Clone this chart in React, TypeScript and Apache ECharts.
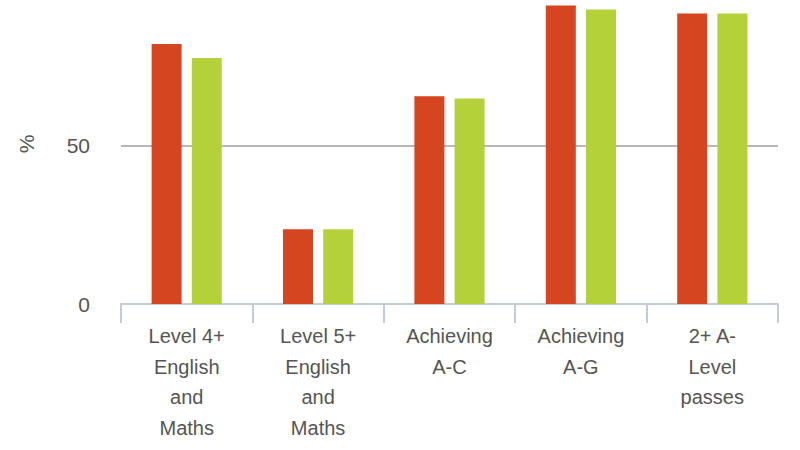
import React, { useEffect, useRef } from "react";
import * as echarts from "echarts";

const categories = [
  "Level 4+\nEnglish\nand\nMaths",
  "Level 5+\nEnglish\nand\nMaths",
  "Achieving\nA-C",
  "Achieving\nA-G",
  "2+ A-\nLevel\npasses",
];
const seriesRed = [82.1, 23.6, 65.6, 94.3, 91.7];
const seriesGreen = [77.7, 23.6, 64.9, 93.0, 91.7];
const yTickLabels = [0, 50];
const yMax = 96;
const yAxisName = "%";

export default function App() {
  const ref = useRef<HTMLDivElement>(null);
  useEffect(() => {
    if (!ref.current) return;
    const chart = echarts.init(ref.current, null, { renderer: "svg" });
    const font = "'Liberation Sans', Arial, sans-serif";
    chart.setOption({
      animation: false,
      grid: { left: 121, right: 22, top: 0, bottom: 146, containLabel: false },
      graphic: [
        {
          type: "text",
          x: 26,
          y: 144,
          rotation: Math.PI / 2,
          style: {
            text: yAxisName,
            fill: "#555555",
            fontSize: 21,
            fontFamily: font,
            align: "center",
            verticalAlign: "middle",
          },
        },
      ],
      xAxis: {
        type: "category",
        data: categories,
        axisLine: { lineStyle: { color: "#c3ccd6", width: 2 } },
        axisTick: { show: true, length: 19, lineStyle: { color: "#c3ccd6", width: 2 } },
        axisLabel: {
          color: "#555555",
          fontSize: 20,
          lineHeight: 30.5,
          fontFamily: font,
          margin: 17,
          interval: 0,
        },
      },
      yAxis: {
        type: "value",
        min: 0,
        max: yMax,
        interval: 50,
        axisLine: { show: false },
        axisTick: { show: false },
        axisLabel: {
          color: "#555555",
          fontSize: 21,
          fontFamily: font,
          margin: 31,
          showMaxLabel: false,
          formatter: (v: number) => (yTickLabels.includes(v) ? String(v) : ""),
        },
        splitLine: {
          showMaxLine: false,
          showMinLine: false,
          lineStyle: { color: "#b8b8b8", width: 2 },
        },
      },
      series: [
        {
          type: "bar",
          data: seriesRed,
          barWidth: 30,
          barGap: "34%",
          itemStyle: { color: "#d5451f" },
        },
        {
          type: "bar",
          data: seriesGreen,
          barWidth: 30,
          itemStyle: { color: "#b4d13a" },
        },
      ],
    });
    return () => chart.dispose();
  }, []);
  return (
    <div
      ref={ref}
      style={{ position: "absolute", left: 0, top: 0, width: 800, height: 450, background: "#fff" }}
    />
  );
}
